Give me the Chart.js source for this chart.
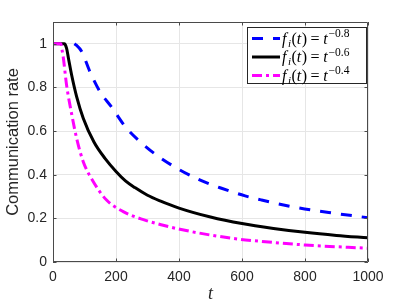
<!DOCTYPE html>
<html>
<head>
<meta charset="utf-8">
<script src="https://cdn.jsdelivr.net/npm/chart.js@4/dist/chart.umd.min.js"></script>
<style>
  html, body { margin: 0; padding: 0; background: #fff; }
  #wrap { width: 407px; height: 305px; position: relative; }
</style>
</head>
<body>
<div id="wrap"><canvas id="c" width="407" height="305"></canvas></div>
<script>
// ---- data ----
const tBlue  = [68, 73, 91, 117, 149, 186, 229, 276, 324, 393, 461, 535, 610, 662, 747, 816, 895, 1000];
const rBlue  = [1.0, 0.995, 0.965, 0.873, 0.781, 0.71, 0.621, 0.552, 0.495, 0.43, 0.379, 0.338, 0.303, 0.284, 0.257, 0.239, 0.223, 0.203];

const tBlack = [0, 36, 43, 49, 59, 75, 96, 130, 165, 200, 230, 260, 300, 340, 400, 500, 600, 700, 800, 900, 1000];
const rBlack = [1.0, 1.0, 0.98, 0.934, 0.858, 0.758, 0.659, 0.55, 0.475, 0.415, 0.372, 0.341, 0.306, 0.28, 0.247, 0.206, 0.176, 0.154, 0.136, 0.122, 0.111];

const tMag   = [0, 25, 29, 33, 43, 59, 75, 96, 128, 170, 223, 287, 340, 403, 498, 594, 650, 800, 1000];
const rMag   = [1.0, 1.0, 0.97, 0.934, 0.812, 0.68, 0.567, 0.46, 0.368, 0.284, 0.231, 0.194, 0.172, 0.15, 0.124, 0.104, 0.096, 0.078, 0.063];

const xTicks = [0, 200, 400, 600, 800, 1000];
const yTicks = [0, 0.2, 0.4, 0.6, 0.8, 1];
const legendExps = ['\u22120.8', '\u22120.6', '\u22120.4'];
const yTitle = 'Communication rate';
const xTitle = 't';

const pts = (ts, rs) => ts.map((t, i) => ({ x: t, y: rs[i] }));

const AXIS_COLOR = '#4a4a4a';

// box + inward ticks
const boxPlugin = {
  id: 'box',
  afterDatasetsDraw(chart) {
    const { ctx, chartArea: a, scales } = chart;
    ctx.save();
    ctx.strokeStyle = AXIS_COLOR;
    ctx.lineWidth = 1;
    ctx.beginPath();
    ctx.rect(a.left + 0.5, a.top + 0.5, a.right - a.left - 1, a.bottom - a.top - 1);
    ctx.stroke();
    ctx.beginPath();
    const tl = 3.5;
    scales.x.ticks.forEach(tk => {
      const px = Math.round(scales.x.getPixelForValue(tk.value)) + 0.5;
      ctx.moveTo(px, a.bottom); ctx.lineTo(px, a.bottom - tl);
      ctx.moveTo(px, a.top); ctx.lineTo(px, a.top + tl);
    });
    scales.y.ticks.forEach(tk => {
      const py = Math.round(scales.y.getPixelForValue(tk.value)) + 0.5;
      ctx.moveTo(a.left, py); ctx.lineTo(a.left + tl, py);
      ctx.moveTo(a.right, py); ctx.lineTo(a.right - tl, py);
    });
    ctx.stroke();
    ctx.restore();
  }
};

// math legend
const legendPlugin = {
  id: 'mathLegend',
  afterDraw(chart) {
    const ctx = chart.ctx;
    const ds = chart.data.datasets;
    const x0 = 247.5, y0 = 27.5, w = 119, h = 56;
    ctx.save();
    ctx.fillStyle = '#fff';
    ctx.fillRect(x0, y0, w, h);
    ctx.strokeStyle = '#262626';
    ctx.lineWidth = 1;
    ctx.strokeRect(x0, y0, w, h);
    const rows = [38.5, 57, 75.5];
    const serif = '"Liberation Serif", "DejaVu Serif", serif';
    ds.forEach((d, i) => {
      const y = rows[i];
      ctx.strokeStyle = d.borderColor;
      ctx.lineWidth = d.borderWidth;
      ctx.setLineDash(d.borderDash || []);
      ctx.beginPath();
      ctx.moveTo(252, y); ctx.lineTo(280, y);
      ctx.stroke();
      ctx.setLineDash([]);
      ctx.fillStyle = '#000';
      ctx.textBaseline = 'alphabetic';
      ctx.textAlign = 'left';
      let x = 282;
      const base = y + 5;
      const put = (txt, font, dy) => {
        ctx.font = font;
        ctx.fillText(txt, x, base + (dy || 0));
        x += ctx.measureText(txt).width;
      };
      put('f', 'italic 16px ' + serif);
      x += 1.5;
      put('i', 'italic 11px ' + serif, 3);
      x += 0.5;
      put('(', '16px ' + serif);
      put('t', 'italic 16px ' + serif);
      x += 0.5;
      put(')', '16px ' + serif);
      x += 3.5;
      put('=', '16px ' + serif);
      x += 3.5;
      put('t', 'italic 16px ' + serif);
      x += 1;
      put(legendExps[i], '11.5px ' + serif, -6.5);
    });
    ctx.restore();
  }
};

new Chart(document.getElementById('c'), {
  type: 'line',
  data: {
    datasets: [
      { label: 'f_i(t) = t^-0.8', data: pts(tBlue, rBlue), borderColor: '#0000ff', borderWidth: 3,
        borderDash: [11, 10], pointRadius: 0, cubicInterpolationMode: 'monotone', fill: false, order: 2 },
      { label: 'f_i(t) = t^-0.6', data: pts(tBlack, rBlack), borderColor: '#000000', borderWidth: 3,
        pointRadius: 0, cubicInterpolationMode: 'monotone', fill: false, order: 1 },
      { label: 'f_i(t) = t^-0.4', data: pts(tMag, rMag), borderColor: '#ff00ff', borderWidth: 3,
        borderDash: [10, 4, 3, 4], pointRadius: 0, cubicInterpolationMode: 'monotone', fill: false, order: 0 }
    ]
  },
  options: {
    responsive: false,
    animation: false,
    layout: { padding: { top: 22, right: 39, left: 0, bottom: 0 } },
    plugins: { legend: { display: false }, tooltip: { enabled: false } },
    scales: {
      x: {
        type: 'linear', min: 0, max: 1000,
        afterBuildTicks: s => { s.ticks = xTicks.map(v => ({ value: v })); },
        afterFit: s => { s.height = 43; },
        border: { display: false },
        grid: { color: '#e6e6e6', drawTicks: false },
        ticks: { color: '#262626', padding: 7, maxRotation: 0,
                 font: { family: '"Liberation Sans", Arial, sans-serif', size: 14 },
                 callback: v => String(v) },
        title: { display: true, text: xTitle, color: '#262626', padding: { top: 0, bottom: 0 },
                 font: { family: '"Liberation Serif", serif', size: 18, style: 'italic' } }
      },
      y: {
        type: 'linear', min: 0, max: 1.1,
        afterBuildTicks: s => { s.ticks = yTicks.map(v => ({ value: v })); },
        afterFit: s => { s.width = 53; },
        border: { display: false },
        grid: { color: '#e6e6e6', drawTicks: false },
        ticks: { color: '#262626', padding: 6,
                 font: { family: '"Liberation Sans", Arial, sans-serif', size: 14 },
                 callback: v => String(+v.toFixed(1)) },
        title: { display: true, text: yTitle, color: '#262626', padding: { top: 4, bottom: 0 },
                 font: { family: '"Liberation Sans", Arial, sans-serif', size: 16.5 } }
      }
    }
  },
  plugins: [boxPlugin, legendPlugin]
});
</script>
</body>
</html>
